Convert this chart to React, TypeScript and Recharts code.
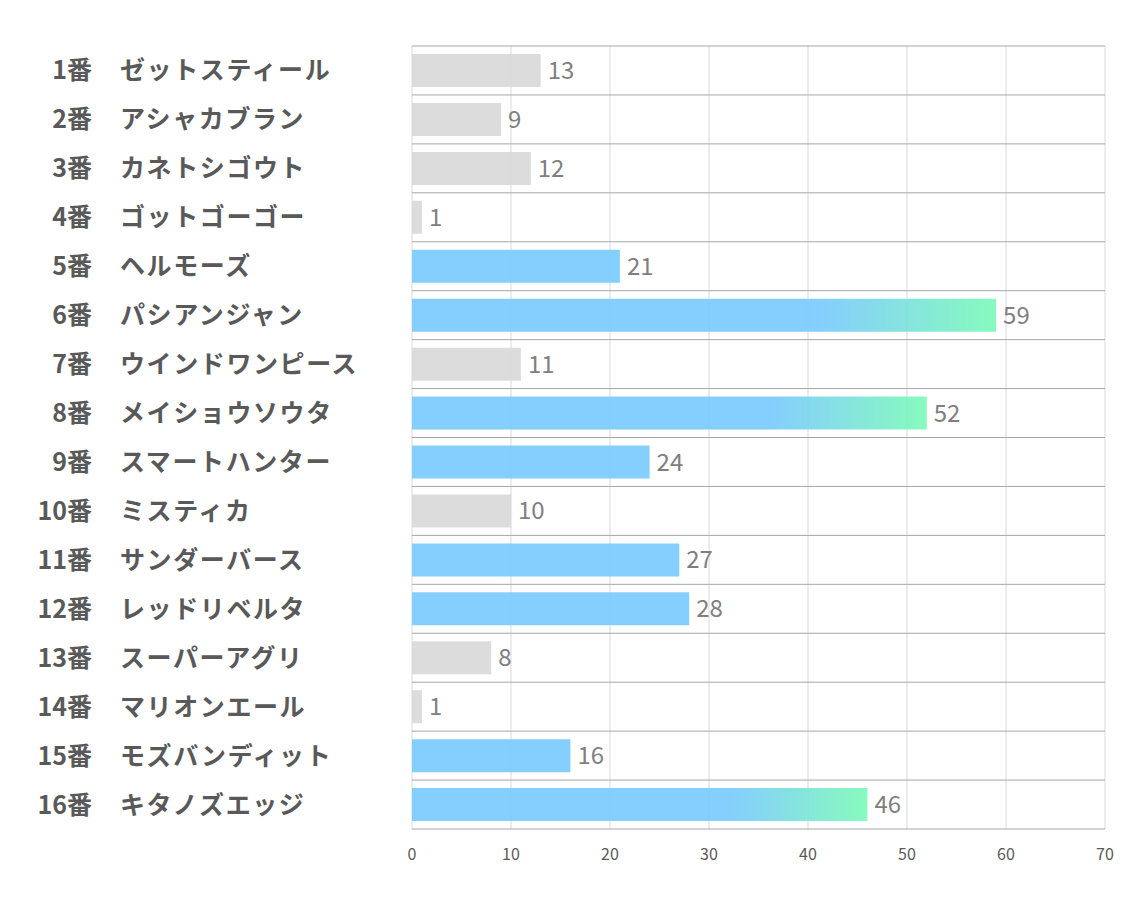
import { Bar, BarChart, CartesianGrid, Cell, LabelList, XAxis, YAxis } from "recharts";

const numbers = ["1番", "2番", "3番", "4番", "5番", "6番", "7番", "8番", "9番", "10番", "11番", "12番", "13番", "14番", "15番", "16番"];
const horses = [
    "ゼットスティール", "アシャカブラン", "カネトシゴウト", "ゴットゴーゴー",
    "ヘルモーズ", "パシアンジャン", "ウインドワンピース", "メイショウソウタ",
    "スマートハンター", "ミスティカ", "サンダーバース", "レッドリベルタ",
    "スーパーアグリ", "マリオンエール", "モズバンディット", "キタノズエッジ",
];
const scores = [13, 9, 12, 1, 21, 59, 11, 52, 24, 10, 27, 28, 8, 1, 16, 46];
// gray / blue / grad
const tiers = ["gray", "gray", "gray", "gray", "blue", "grad", "gray", "grad", "blue", "gray", "blue", "blue", "gray", "gray", "blue", "grad"];
const xTicks = [0, 10, 20, 30, 40, 50, 60, 70];

const data = horses.map((h, i) => ({ key: String(i), num: numbers[i], name: h, value: scores[i], tier: tiers[i] }));

const fillFor = (t: string) => (t === "gray" ? "#d9d9d9" : t === "blue" ? "#7bcbfd" : "url(#barGrad)");

const FONT = "'Noto Sans CJK JP', 'Noto Sans', sans-serif";

const HorseTick = (props: any) => {
    const { x, y, payload } = props;
    const row = data[Number(payload.value)];
    return (
        <g>
            <text x={x - 312} y={y} dy={9} textAnchor="end" fontSize={25} fontWeight="bold" fill="#595959" fontFamily={FONT}>
                {row.num}
            </text>
            <text x={x - 284} y={y} dy={9} textAnchor="start" fontSize={25} fontWeight="bold" fill="#595959" fontFamily={FONT} letterSpacing={1.6}>
                {row.name}
            </text>
        </g>
    );
};

export default function App() {
    return (
        <div style={{ position: "absolute", left: 0, top: 0, background: "#fff" }}>
            <BarChart
                width={1134}
                height={907}
                data={data}
                layout="vertical"
                margin={{ top: 46, right: 29, left: 0, bottom: 38 }}
                barSize={33}
            >
                <defs>
                    <linearGradient id="barGrad" x1="0" y1="0" x2="1" y2="0">
                        <stop offset="0" stopColor="#7bcbfd" />
                        <stop offset="0.7" stopColor="#7bcbfd" />
                        <stop offset="1" stopColor="#7efab9" />
                    </linearGradient>
                </defs>
                <CartesianGrid horizontal={false} stroke="#d9d9d9" />
                <CartesianGrid
                    vertical={false}
                    stroke="#a6a6a6"
                    horizontalCoordinatesGenerator={({ offset }: any) =>
                        data.map((_, i) => offset.top + (i * offset.height) / data.length).concat(offset.top + offset.height)
                    }
                />
                <XAxis
                    type="number"
                    domain={[0, 70]}
                    ticks={xTicks}
                    tickLine={false}
                    axisLine={false}
                    tickMargin={14}
                    height={40}
                    tick={{ fontSize: 16, fill: "#595959", fontFamily: FONT }}
                />
                <YAxis
                    type="category"
                    dataKey="key"
                    width={412}
                    tickLine={false}
                    axisLine={false}
                    tick={<HorseTick />}
                    interval={0}
                />
                <Bar dataKey="value" isAnimationActive={false} fillOpacity={0.93}>
                    {data.map((d) => (
                        <Cell key={d.key} fill={fillFor(d.tier)} />
                    ))}
                    <LabelList dataKey="value" position="right" offset={7} fill="#7f7f7f" fontSize={24} fontFamily={FONT} />
                </Bar>
            </BarChart>
        </div>
    );
}
